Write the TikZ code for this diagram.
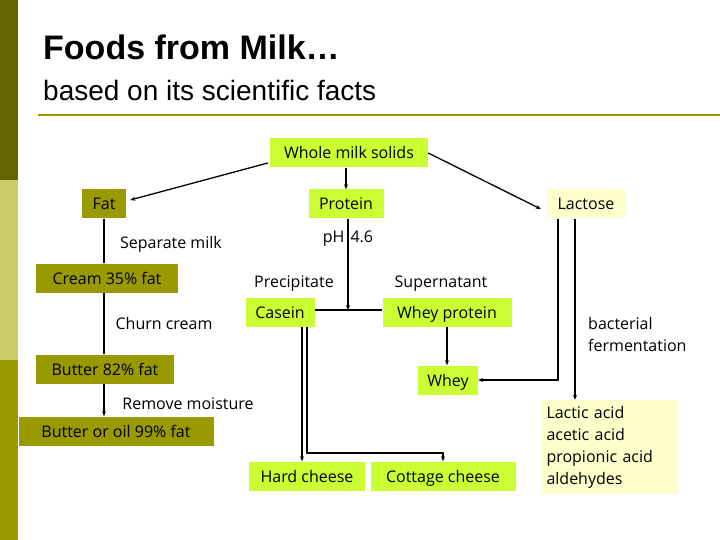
\documentclass[tikz,border=0pt]{standalone}
\usepackage{fontspec}
\setmainfont{Open Sans}
\newfontfamily\titlefont{Liberation Sans}
\definecolor{lime}{RGB}{204,255,51}
\definecolor{olive}{RGB}{153,153,0}
\definecolor{dolive}{RGB}{102,102,0}
\definecolor{lolive}{RGB}{204,204,102}
\definecolor{cream}{RGB}{255,255,204}
\tikzset{
 g/.style={fill=lime,inner sep=0pt,minimum height=29pt,text height=14pt,text depth=2pt,font=\fontsize{16}{22}\selectfont},
 o/.style={g,fill=olive},
 c/.style={g,fill=cream},
 t/.style={inner sep=0pt,font=\fontsize{16}{22}\selectfont},
 ln/.style={line width=1.3pt},
 ar/.style={ln,-{Stealth[length=5pt,width=4pt]}}
}
\usetikzlibrary{arrows.meta}
\begin{document}
\begin{tikzpicture}[x=1pt,y=-1pt]
\useasboundingbox (0,0) rectangle (720,540);
\fill[white] (0,0) rectangle (720,540);
\fill[dolive] (0,0) rectangle (18,180);
\fill[lolive] (0,180) rectangle (18,360);
\fill[olive] (0,360) rectangle (18,540);
\node[anchor=west,inner sep=0pt,font=\titlefont\bfseries\fontsize{34}{38}\selectfont] (title) at (43,47) {Foods from Milk…};
\node[anchor=west,inner sep=0pt,font=\titlefont\fontsize{28}{32}\selectfont] (sub) at (43,90) {based on its scientific facts};
\fill[olive] (38,114) rectangle (720,116);

\node[g,minimum width=158pt] (w) at (349,153) {Whole milk solids};
\node[o,minimum width=44pt] (fat) at (104,204) {Fat};
\node[g,minimum width=75pt] (p) at (346,204) {Protein};
\node[c,minimum width=78pt] (l) at (586,204) {Lactose};
\node[o,minimum width=142pt] (cr) at (107,278) {Cream 35\% fat};
\node[g,minimum width=69pt] (cas) at (280,312) {Casein};
\node[g,minimum width=129pt] (wp) at (447,312) {Whey protein};
\node[o,minimum width=138pt] (b) at (105,369) {Butter 82\% fat};
\node[o,minimum width=195pt] (bo) at (116,431) {Butter or oil 99\% fat};
\node[g,minimum width=60pt] (wh) at (448,380) {Whey};
\node[g,minimum width=116pt] (hc) at (307,476) {Hard cheese};
\node[g,minimum width=145pt] (cc) at (443,476) {Cottage cheese};
\node[c,minimum width=137pt,minimum height=94pt,text height=,text depth=,align=left,text width=125pt] (la) at (609,447) {Lactic acid\\acetic acid\\propionic acid\\aldehydes};

\node[t] (sep) at (171,244) {Separate milk};
\node[t] (ph) at (348,239) {pH\hspace{6pt}4.6};
\node[t] (pre) at (294,284) {Precipitate};
\node[t] (sup) at (441,284) {Supernatant};
\node[t] (ch) at (164,323) {Churn cream};
\node[t] (rm) at (188,404) {Remove moisture};
\node[t,align=left,anchor=west] (bf) at (588,334) {bacterial\\fermentation};

\draw[ar] (w.west) ++(-2,10) -- ([xshift=4pt,yshift=4pt]fat.east);
\draw[ar] (p.north |- w.south) -- (p.north);
\draw[ar] (w.east) -- ([xshift=-6pt,yshift=-5pt]l.west);
\draw[ln] (fat.south) -- (cr.north -| fat.south);
\draw[ln] (cr.south -| fat.south) -- (b.north -| fat.south);
\draw[ar] (b.south -| fat.south) -- (bo.north -| fat.south);
\draw[ln] ([yshift=2pt]cas.east) -- ([yshift=2pt]wp.west);
\coordinate (pj) at ([yshift=2pt]cas.east -| p.south);
\draw[ar] ([xshift=2pt]p.south) -- ([xshift=2pt]pj);
\draw[ar] (wp.south) -- (wh.north -| wp.south);
\draw[ar] ([xshift=-28pt]l.south) |- (wh.east);
\draw[ar] ([xshift=-11pt]l.south) -- ([xshift=-11pt]l.south |- la.north);
\draw[ar] ([xshift=22pt]cas.south) -- ([xshift=22pt]cas.south |- hc.north);
\coordinate (k) at ([xshift=27pt]cas.south |- 0,453);
\draw[ar] ([xshift=27pt]cas.south) -- (k) -| (cc.north);
\end{tikzpicture}
\end{document}
